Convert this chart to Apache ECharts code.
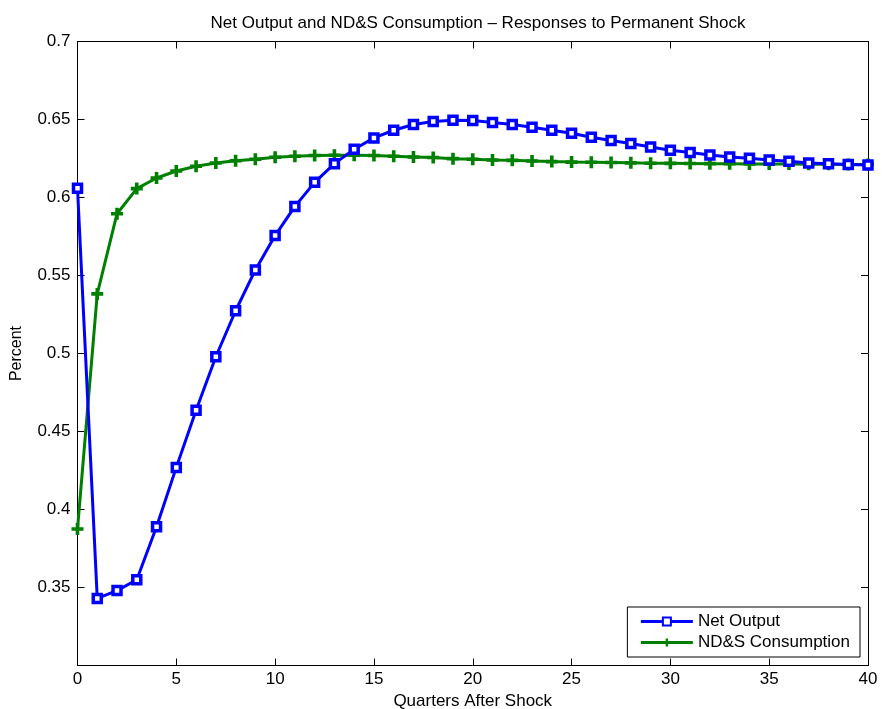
<!DOCTYPE html>
<html>
<head>
<meta charset="utf-8">
<script src="https://cdn.jsdelivr.net/npm/echarts@6/dist/echarts.min.js"></script>
<style>html,body{margin:0;padding:0;background:#fff;}#c{width:882px;height:709px;}</style>
</head>
<body>
<div id="c"></div>
<script>
const quarters = [0,1,2,3,4,5,6,7,8,9,10,11,12,13,14,15,16,17,18,19,20,21,22,23,24,25,26,27,28,29,30,31,32,33,34,35,36,37,38,39,40];
const netOutput = [0.606,0.343,0.348,0.355,0.389,0.427,0.4636,0.4979,0.5274,0.5536,0.5756,0.5943,0.6097,0.6217,0.6309,0.6382,0.6431,0.6468,0.6487,0.6495,0.6493,0.6481,0.6468,0.6451,0.6431,0.6412,0.6386,0.6365,0.6346,0.6324,0.6303,0.6288,0.6273,0.6260,0.6251,0.6240,0.6232,0.6221,0.6217,0.6211,0.6208];
const ndsConsumption = [0.3875,0.5382,0.5896,0.6057,0.6125,0.6170,0.6200,0.6221,0.6236,0.6245,0.6258,0.6264,0.6269,0.6271,0.6271,0.6269,0.6264,0.6260,0.6256,0.6249,0.6245,0.6240,0.6238,0.6234,0.6230,0.6227,0.6226,0.6224,0.6222,0.6220,0.6219,0.6218,0.6217,0.6216,0.6215,0.6214,0.6214,0.6213,0.6213,0.6212,0.6212];
const seriesNames = ['Net Output','ND&S Consumption'];
const titleText = 'Net Output and ND&S Consumption \u2013 Responses to Permanent Shock';
const xName = 'Quarters After Shock';
const yName = 'Percent';

const FONT = 'Liberation Sans, Arial, Helvetica, sans-serif';
const chart = echarts.init(document.getElementById('c'), null, {renderer:'canvas'});
const pair = (ys) => quarters.map((q,i)=>[q, ys[i]]);
const plusPath = 'path://M3.5,0H6.5V3.5H10V6.5H6.5V10H3.5V6.5H0V3.5H3.5Z';
const axisCommon = {
  axisLine:{show:true, onZero:false, lineStyle:{color:'#000', width:1}},
  axisTick:{show:true, inside:true, length:7, lineStyle:{color:'#000'}},
  splitLine:{show:false}
};
chart.setOption({
  animation:false,
  backgroundColor:'#fff',
  title:{text:titleText, left:473, textAlign:'center', top:10,
    textStyle:{fontFamily:FONT, fontSize:17, fontWeight:'normal', color:'#000'}},
  grid:{left:77.5, right:14, top:41.5, bottom:43.5, containLabel:false, outerBoundsMode:'none'},
  legend:{
    data:seriesNames, orient:'vertical', right:22, top:607,
    backgroundColor:'#fff', borderColor:'#000', borderWidth:1, borderRadius:0,
    padding:[6,10,6,12], itemWidth:52, itemHeight:10, itemGap:4,
    lineStyle:{width:3},
    textStyle:{fontFamily:FONT, fontSize:17, color:'#000'}
  },
  xAxis:[
    Object.assign({type:'value', min:0, max:40, interval:5, position:'bottom',
      name:xName, nameLocation:'middle', nameGap:27,
      nameTextStyle:{fontFamily:FONT, fontSize:17, color:'#000'},
      axisLabel:{fontFamily:FONT, fontSize:17, color:'#000', margin:5}}, axisCommon),
    Object.assign({type:'value', min:0, max:40, interval:5, position:'top',
      axisLabel:{show:false}}, axisCommon)
  ],
  yAxis:[
    Object.assign({type:'value', min:0.3, max:0.7, interval:0.05, position:'left',
      name:yName, nameLocation:'middle', nameGap:53, nameRotate:90,
      nameTextStyle:{fontFamily:FONT, fontSize:16, color:'#000'},
      axisLabel:{fontFamily:FONT, fontSize:17, color:'#000', margin:7,
        formatter:(v)=> Math.abs(v-0.3)<1e-9 ? '' : String(+v.toFixed(2))}}, axisCommon),
    Object.assign({type:'value', min:0.3, max:0.7, interval:0.05, position:'right',
      axisLabel:{show:false}}, axisCommon)
  ],
  series:[
    {name:seriesNames[0], type:'line', data:pair(netOutput), xAxisIndex:0, yAxisIndex:0,
      symbol:'rect', symbolSize:8, showAllSymbol:true,
      lineStyle:{color:'#0000ff', width:3},
      itemStyle:{color:'#ffffff', borderColor:'#0000ff', borderWidth:3.5},
      z:3},
    {name:seriesNames[1], type:'line', data:pair(ndsConsumption), xAxisIndex:0, yAxisIndex:0,
      symbol:plusPath, symbolSize:12, showAllSymbol:true,
      lineStyle:{color:'#008000', width:3},
      itemStyle:{color:'#008000'},
      z:2}
  ]
});
</script>
</body>
</html>
